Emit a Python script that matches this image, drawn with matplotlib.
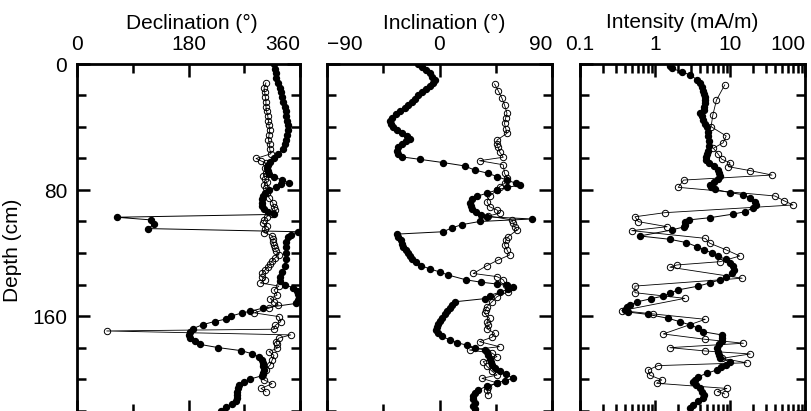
import matplotlib
matplotlib.use("Agg")
import matplotlib.pyplot as plt
from matplotlib.ticker import LogLocator, NullFormatter

plt.rcParams['font.family'] = ['Liberation Sans', 'DejaVu Sans']

# declination, filled dots
dec_fill_depth = [0, 3, 6, 9, 12, 15, 18, 21, 24, 27, 30, 33, 36, 39, 42, 45, 48, 51, 54, 57,
                  60, 62, 64, 66, 68, 70, 72, 73.5, 75.5, 76, 78, 80, 82, 84, 86, 88, 90, 92, 94, 95.5,
                  97.3, 99, 101.5, 104.5, 106.5, 108.5, 110, 113, 116, 120, 124, 128, 132, 135, 138,
                  140, 142, 144, 146, 148, 150, 152, 155, 157, 158, 160, 162, 163.5, 165.5, 168, 170,
                  172, 174, 176, 178, 180, 182, 184, 186, 188, 190, 192, 194, 196, 198, 200, 202, 204,
                  206, 208, 210, 212, 214, 216, 218, 220]
dec_fill = [318, 319, 321, 322, 324, 327, 329, 331, 333, 335, 337, 338, 339, 340, 340, 339, 338, 336, 332, 325,
            318, 312, 309, 307, 308, 310, 318, 331, 342, 330, 322, 310, 304, 300, 298, 298, 299, 302, 308, 318,
            64, 120, 125, 115, 356, 345, 340, 338, 338, 338, 337, 335, 331, 327, 328,
            335, 348, 355, 357, 358, 356, 354, 300, 280, 267, 249, 240, 222, 203, 187, 182,
            181, 183, 190, 198, 227, 265, 283, 294, 298, 300, 301, 302, 301, 298, 280, 270, 262,
            260, 259, 259, 258, 256, 250, 240, 232]

# declination, open circles
dec_open_depth = [12, 15, 18, 21, 24, 27, 30, 33, 36, 39, 42, 45, 48, 51, 54, 57, 60, 61.5, 63, 66,
                  69, 71, 73, 75, 77, 79, 82, 85, 88, 91, 93, 95, 97, 99, 101, 103, 105, 107, 109, 111,
                  113, 115, 117, 119, 121, 123, 125, 127, 129, 131, 133, 135, 137, 139, 141, 143.5,
                  146.7, 149, 151, 153, 155, 158, 160.4, 163.6, 166, 168.4, 169.5, 172, 174, 176.3,
                  178, 180.5, 182.6, 185, 188, 191, 194, 197, 200.6, 203, 206, 208]
dec_open = [305, 302, 303, 304, 305, 305, 306, 308, 309, 310, 311, 310, 309, 311, 311, 313, 289, 297, 305, 303,
            305, 301, 304, 306, 302, 305, 306, 310, 316, 318, 320, 314, 306, 302, 300, 306, 303, 302, 315, 317,
            316, 318, 320, 322, 326, 320, 315, 312, 308, 303, 299, 298, 304, 296, 326, 318,
            323, 312, 318, 325, 310, 286, 326, 329, 320, 318, 48, 345, 326, 321,
            323, 323, 310, 318, 315, 312, 305, 300, 302, 315, 297, 305]

# inclination, filled dots
inc_fill_depth = [0, 2, 4, 6, 8, 10, 12, 14, 16, 18, 20, 22, 24, 26, 28, 30, 32, 34, 36, 38, 40, 42,
                  44, 46, 47.5, 49, 51, 53, 55, 57, 59, 60.5, 62.6, 64.7, 67.3, 69.4, 71.5, 73.7, 75.7,
                  77, 78.3, 80, 82, 84, 86, 88, 90, 92, 94, 96, 97, 98.4, 100, 102, 104, 106.5, 108,
                  110, 112, 114, 116, 118, 120, 122, 124, 126, 128, 130, 132, 134, 137, 138.5, 139.7,
                  140.6, 141.5, 143, 145, 147, 149, 151, 153, 155, 157, 159, 161, 163, 165, 167, 169,
                  171, 173, 175, 177, 178.5, 180, 181.6, 183, 185, 187, 189, 191, 193, 195, 197, 199.6,
                  201, 202.7, 204.5, 207, 209, 211, 213, 215, 217, 219]
inc_fill = [-17, -14, -11, -8, -6, -4, -5, -8, -11, -14, -17, -20, -22, -25, -28, -32, -35, -38, -40, -39, -37, -34,
            -30, -26, -24, -27, -30, -33, -34, -33, -30, -16, 3, 20, 28, 39, 46, 54, 61,
            64, 54, 46, 38, 30, 26, 24, 25, 26, 29, 33, 38, 74, 32, 18, 10, 3, -34,
            -33, -31, -30, -29, -27, -25, -24, -22, -19, -15, -8, 0, 7, 21, 33, 46,
            54, 59, 55, 48, 40, 36, 12, 10, 8, 6, 4, 2, 0, -1, -2, -2.5,
            -1, 2, 8, 14, 22, 28, 36, 38, 39, 40, 41, 42, 44, 48, 53, 59,
            52, 46, 38, 31, 28, 27, 27, 28, 27, 28]

# inclination, open circles
inc_open_depth = [12.7, 17, 21.8, 26, 31.3, 34, 37.7, 41, 44, 48.3, 51, 53, 55.7, 59.2, 61.4, 64, 69.4,
                  72.6, 75.8, 77.9, 80, 84, 87.4, 90.6, 92.7, 94.8, 96.5, 99, 101, 103.3, 105.4, 109.6,
                  112, 115, 118, 121.3, 124.4, 128, 133, 135, 137, 140, 144.6, 147.7, 151, 154, 156,
                  158.3, 161.5, 163.5, 165.7, 168, 171, 173.5, 176.3, 179.5, 181.6, 183.5, 185.8, 189,
                  192, 195, 197.5, 199.6, 202.5, 204.9, 207, 210]
inc_open = [44, 47, 50, 52, 54, 53, 52, 53, 54, 46, 46, 47, 48, 51, 32, 51, 52,
            54, 52, 48, 46, 40, 38, 40, 46, 48, 39, 58, 59, 60, 62, 55,
            53, 52, 54, 56, 47, 38, 27, 46, 51, 53, 55, 46, 42, 38, 37,
            36, 40, 38, 39, 38, 44, 42, 32, 48, 24, 42, 46, 35,
            38, 42, 46, 34, 46, 39, 38, 39]

# intensity (mA/m), filled dots
int_fill_depth = [1, 2.7, 5, 7, 10, 12, 14.4, 17, 19, 21, 23, 25, 27, 29, 31.3, 33, 35.6, 38, 40, 43,
                  46, 49, 52, 55, 57, 59, 61, 63, 65, 67, 69, 71, 73, 75, 76.8, 78, 79.6, 81.7, 83, 85,
                  87.4, 89.5, 91.4, 93.8, 95.3, 97.6, 99, 100.5, 102, 103.5, 105.4, 109.2, 111.3, 113.4,
                  116, 118, 120, 122, 124, 126.6, 128.5, 130.5, 133, 135, 137, 139, 141, 143.5, 145.6,
                  147.3, 149, 151, 153, 154.5, 156, 157.5, 159, 161.5, 163.6, 165.7, 167.8, 170, 172,
                  174, 176, 178, 180.5, 183, 185, 186.9, 189, 191, 192.5, 194.3, 196.4, 198.5, 200.5,
                  202, 204, 206, 208, 210, 212, 214, 216.5, 218.6]
int_fill = [1.58, 1.66, 2.29, 2.95, 3.63, 3.98, 4.17, 4.37, 4.57, 4.68, 4.68, 4.68, 4.57, 4.47, 3.98, 4.17,
            4.37, 4.68, 5.01, 5.13, 5.13, 5.25, 5.25, 5.13, 5.01, 4.79, 4.79, 5.25, 6.03, 6.92, 7.24, 7.41,
            6.92, 6.03, 5.37, 5.50, 6.31, 10.0, 15.1, 18.6, 21.4, 21.9, 20.4, 15.8, 11.0, 5.37, 2.82, 2.51,
            2.51, 2.40, 1.66, 0.63, 1.58, 2.63, 3.63, 4.57, 5.75, 6.92, 8.71, 10.0, 11.0, 11.2, 10.5, 8.91,
            7.41, 5.37, 3.80, 2.00, 1.58, 1.29, 0.89, 0.58, 0.47, 0.42, 0.40, 0.44, 0.81, 1.51, 2.14, 2.95,
            3.80, 4.37, 7.76, 7.94, 7.76, 7.08, 6.61, 6.92, 7.08, 7.41, 10.0, 8.91, 7.59, 6.61, 4.90, 3.80,
            3.39, 3.24, 3.55, 3.98, 4.27, 4.47, 4.37, 3.80, 3.24, 2.95]

# intensity (mA/m), open circles
int_open_depth = [13.3, 22.9, 32.4, 39.8, 45.7, 50, 53.5, 57, 60.5, 62.7, 65.2, 67.7, 70.5, 73.7, 78.3,
                  83.8, 86.8, 89.5, 94.4, 97, 100.1, 103.3, 105.8, 110.7, 113.8, 118, 121.9, 125.5, 127.6,
                  129, 136, 141, 145.2, 148.8, 156.6, 158.7, 162.1, 171.4, 174.8, 177.3, 180.1, 182.2,
                  184.1, 186.9, 189.7, 191.5, 194.3, 197.5, 200.6, 202.7, 206, 208, 209.5]
int_open = [8.5, 6.6, 5.9, 5.6, 8.9, 8.1, 6.0, 6.9, 7.8, 10.0, 9.5, 18.6, 36.3, 2.4, 2.04,
            39.8, 52.5, 69.2, 1.35, 0.54, 0.60, 1.45, 0.49, 4.68, 5.37, 8.9, 13.5, 7.4, 1.95,
            1.58, 14.5, 0.54, 0.54, 2.5, 0.36, 0.95, 4.68, 1.29, 4.68, 15.1, 1.58, 4.68,
            18.6, 7.8, 16.6, 1.10, 0.81, 0.85, 1.23, 1.05, 9.1, 6.8, 8.5]

W, H = 811, 411
fig = plt.figure(figsize=(W / 100, H / 100), dpi=100)

top_px, bot_px = 64, 413
panels = [(77, 223), (327, 225), (580, 225)]
axes = []
for left, width in panels:
    ax = fig.add_axes([left / W, (H - bot_px) / H, width / W, (bot_px - top_px) / H])
    axes.append(ax)

fill_kw = dict(color='black', lw=0.7, marker='o', ms=4.3, mfc='black', mec='black', zorder=3)
open_kw = dict(color='black', lw=0.6, marker='o', ms=4.6, mfc='none', mec='black', mew=0.7, zorder=2)

axes[0].plot(dec_open, dec_open_depth, **open_kw)
axes[0].plot(dec_fill, dec_fill_depth, **fill_kw)
axes[1].plot(inc_open, inc_open_depth, **open_kw)
axes[1].plot(inc_fill, inc_fill_depth, **fill_kw)
axes[2].plot(int_open, int_open_depth, **open_kw)
axes[2].plot(int_fill, int_fill_depth, **fill_kw)

ymax = (bot_px - 64) / 1.575

for i, ax in enumerate(axes):
    ax.set_ylim(ymax, 0)
    ax.set_yticks([0, 80, 160])
    ax.set_yticks([20, 40, 60, 100, 120, 140, 180, 200, 220], minor=True)
    for s in ax.spines.values():
        s.set_linewidth(2.0)
    ax.tick_params(which='both', direction='in', top=True, bottom=True, left=True, right=True,
                   labeltop=True, labelbottom=False, labelsize=15, width=1.8)
    ax.tick_params(which='major', length=9.5, pad=7)
    ax.tick_params(which='minor', length=6.5)
    if i > 0:
        ax.tick_params(labelleft=False)

axes[0].set_xlim(0, 360)
axes[0].set_xticks([0, 180, 360])
axes[0].set_xticks([90, 270], minor=True)
axes[0].set_xticklabels(['0', '180', '360'])
axes[0].get_xticklabels()[2].set_ha('right')

axes[1].set_xlim(-90, 90)
axes[1].set_xticks([-90, 0, 90])
axes[1].set_xticks([-45, 45], minor=True)
axes[1].set_xticklabels(['\u221290', '0', '90'])
axes[1].get_xticklabels()[0].set_ha('left')
axes[1].get_xticklabels()[2].set_ha('right')

axes[2].set_xscale('log')
axes[2].set_xlim(0.1, 100)
axes[2].set_xticks([0.1, 1, 10, 100])
axes[2].set_xticklabels(['0.1', '1', '10', '100'])
axes[2].xaxis.set_minor_locator(LogLocator(base=10, subs=range(2, 10)))
axes[2].xaxis.set_minor_formatter(NullFormatter())
axes[2].get_xticklabels()[3].set_ha('right')

axes[0].set_ylabel('Depth (cm)', fontsize=15)
axes[0].yaxis.set_label_coords(-0.247, 0.467)

ty = 1 - 23 / H
fig.text(192 / W, ty, 'Declination (\u00b0)', ha='center', va='center', fontsize=15)
fig.text(444 / W, ty, 'Inclination (\u00b0)', ha='center', va='center', fontsize=15)
fig.text(682 / W, ty, 'Intensity (mA/m)', ha='center', va='center', fontsize=15)

plt.savefig('out.png', dpi=100)
